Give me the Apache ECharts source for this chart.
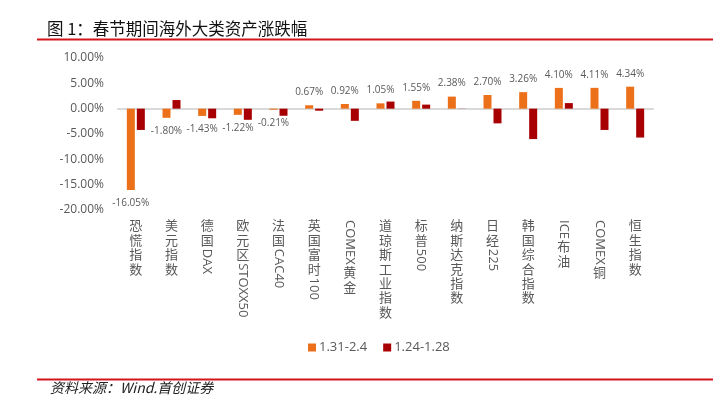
<!DOCTYPE html>
<html>
<head>
<meta charset="utf-8">
<script src="https://cdn.jsdelivr.net/npm/echarts@6/dist/echarts.min.js"></script>
<style>html,body{margin:0;padding:0;background:#fff;}#c{width:722px;height:395px;}</style>
</head>
<body>
<div id="c"></div>
<script>
const titleText = '图 1：春节期间海外大类资产涨跌幅';
const sourceText = '资料来源：Wind.首创证券';
const categories = ['恐慌指数','美元指数','德国DAX','欧元区STOXX50','法国CAC40','英国富时100','COMEX黄金','道琼斯工业指数','标普500','纳斯达克指数','日经225','韩国综合指数','ICE布油','COMEX铜','恒生指数'];
const seriesNames = ['1.31-2.4','1.24-1.28'];
const valuesA = [-16.05,-1.80,-1.43,-1.22,-0.21,0.67,0.92,1.05,1.55,2.38,2.70,3.26,4.10,4.11,4.34];
const valuesB = [-4.2,1.7,-1.9,-2.2,-1.4,-0.4,-2.4,1.4,0.8,0.03,-2.9,-6.0,1.1,-4.2,-5.7];
const yMin = -20, yMax = 10, yStep = 5;

const LATIN = "'Open Sans','Noto Sans CJK SC',sans-serif";
const CJK = "'Noto Sans CJK SC','Open Sans',sans-serif";
const grey = '#595959';

const chart = echarts.init(document.getElementById('c'), null, {renderer:'canvas'});
const option = {
  animation: false,
  backgroundColor: '#fff',
  grid: {left: 118, right: 69, top: 58, height: 152},
  legend: {
    data: seriesNames,
    left: 303, top: 336,
    itemWidth: 8, itemHeight: 8, itemGap: 16,
    icon: 'rect',
    textStyle: {fontFamily: LATIN, fontSize: 13, color: grey, padding: [0,0,0,-2]}
  },
  xAxis: {
    type: 'category',
    data: categories,
    axisLine: {show: true, onZero: true, lineStyle: {color: '#D9D9D9', width: 2}},
    axisTick: {show: false},
    axisLabel: {show: false}
  },
  yAxis: {
    type: 'value',
    min: yMin, max: yMax, interval: yStep,
    axisLine: {show: false},
    axisTick: {show: false},
    splitLine: {show: false},
    axisLabel: {
      margin: 14,
      fontFamily: LATIN, fontSize: 12, color: grey,
      formatter: v => v.toFixed(2) + '%'
    }
  },
  series: [
    {
      name: seriesNames[0], type: 'bar', barWidth: 8, barGap: '25%',
      itemStyle: {color: '#EC7019'},
      data: valuesA.map(v => ({value: v, label: {position: v >= 0 ? 'top' : 'bottom'}})),
      label: {
        show: true, distance: 8,
        fontFamily: LATIN, fontSize: 10, color: grey,
        formatter: p => p.value.toFixed(2) + '%'
      }
    },
    {
      name: seriesNames[1], type: 'bar', barWidth: 8,
      itemStyle: {color: '#A80000'},
      data: valuesB
    }
  ]
};
chart.setOption(option);

const cv = document.createElement('canvas').getContext('2d');
function measure(t, font){ cv.font = font; return cv.measureText(t).width; }

const els = [];
const labFont = "13px " + CJK;
const latinFont = "13px " + LATIN;
categories.forEach((c) => {
  const x = chart.convertToPixel({xAxisIndex: 0}, c);
  let y = 219;
  const segs = c.match(/[\u4e00-\u9fff]|[^\u4e00-\u9fff]+/g);
  segs.forEach(s => {
    if (/[\u4e00-\u9fff]/.test(s)) {
      els.push({type: 'text', x: x, y: y, silent: true,
        style: {text: s, font: labFont, fill: grey, align: 'center', verticalAlign: 'top'}});
      y += 14.4;
    } else {
      const w = measure(s, latinFont);
      els.push({type: 'text', x: x, y: y + 1, rotation: -Math.PI / 2, silent: true,
        style: {text: s, font: latinFont, fill: grey, align: 'left', verticalAlign: 'middle'}});
      y += w + 2;
    }
  });
});

// title & frame lines & source
els.push({type: 'text', x: 47, y: 29, silent: true,
  style: {text: titleText, font: "16.5px " + CJK, fill: '#111', align: 'left', verticalAlign: 'middle'}});
els.push({type: 'line', silent: true, shape: {x1: 37, y1: 39.5, x2: 713, y2: 39.5}, style: {stroke: '#D2161C', lineWidth: 2}});
els.push({type: 'line', silent: true, shape: {x1: 37, y1: 379.5, x2: 713, y2: 379.5}, style: {stroke: '#D2161C', lineWidth: 2}});
els.push({type: 'text', x: 50, y: 388, silent: true,
  style: {text: sourceText, font: "italic 14px " + CJK, fill: '#222', align: 'left', verticalAlign: 'middle'}});

chart.setOption({graphic: {elements: els}});
</script>
</body>
</html>
